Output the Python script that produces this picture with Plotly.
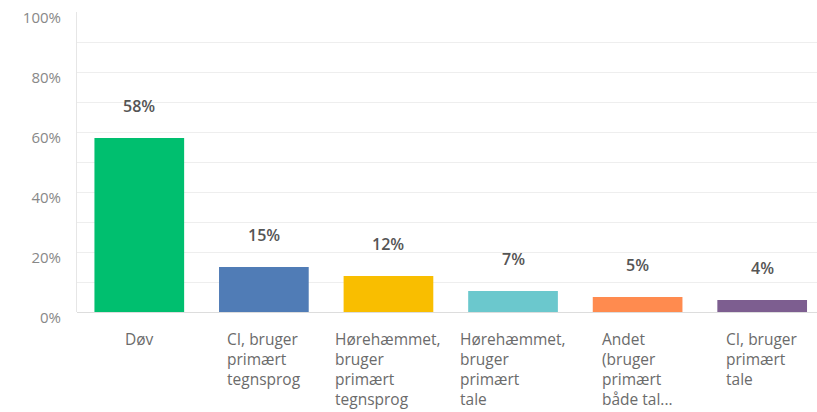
import plotly.graph_objects as go

categories = [
    "Døv",
    "CI, bruger<br>primært<br>tegnsprog",
    "Hørehæmmet,<br>bruger<br>primært<br>tegnsprog",
    "Hørehæmmet,<br>bruger<br>primært<br>tale",
    "Andet<br>(bruger<br>primært<br>både tal...",
    "CI, bruger<br>primært<br>tale",
]
values = [58, 15, 12, 7, 5, 4]
value_labels = ["58%", "15%", "12%", "7%", "5%", "4%"]
colors = ["#00BF6F", "#507CB6", "#F9BE00", "#6BC8CD", "#FF8B4F", "#7D5E90"]
y_ticks = [0, 20, 40, 60, 80, 100]
y_tick_text = ["0%", "20%", "40%", "60%", "80%", "100%"]

FONT = "Open Sans"
x_pos = list(range(len(categories)))

fig = go.Figure(
    go.Bar(
        x=x_pos,
        y=values,
        marker=dict(color=colors, line=dict(width=0)),
        width=0.72,
        hoverinfo="skip",
    )
)

annotations = []
for i, (v, lab) in enumerate(zip(values, value_labels)):
    annotations.append(dict(
        x=i, y=v, xref="x", yref="y", text=lab, showarrow=False,
        yanchor="bottom", yshift=19,
        font=dict(family=FONT, size=16, color="#555555", weight=600),
    ))
for i, cat in enumerate(categories):
    annotations.append(dict(
        x=i, y=0, xref="x", yref="y", text=cat, showarrow=False,
        xanchor="center", yanchor="top", align="left", yshift=-14,
        font=dict(family=FONT, size=15.5, color="#6b6b6b"),
    ))

fig.update_layout(
    width=817, height=412,
    margin=dict(l=77, r=0, t=12, b=100),
    paper_bgcolor="white", plot_bgcolor="white",
    showlegend=False,
    annotations=annotations,
    xaxis=dict(
        range=[-0.5, 5.44], showticklabels=False, showgrid=False,
        zeroline=False, showline=False, fixedrange=True,
    ),
    yaxis=dict(
        range=[0, 100], tickvals=y_ticks, ticktext=y_tick_text,
        showgrid=True, gridcolor="#eeeeee", gridwidth=1,
        minor=dict(dtick=10, showgrid=True, gridcolor="#eeeeee", gridwidth=1),
        zeroline=True, zerolinecolor="#dddddd", zerolinewidth=1,
        showline=True, linecolor="#e6e6e6", linewidth=1,
        ticks="", ticklabelstandoff=12, ticklabelshift=6,
        tickfont=dict(family=FONT, size=15, color="#888888"),
        fixedrange=True,
    ),
)

fig.write_html("out.html")
